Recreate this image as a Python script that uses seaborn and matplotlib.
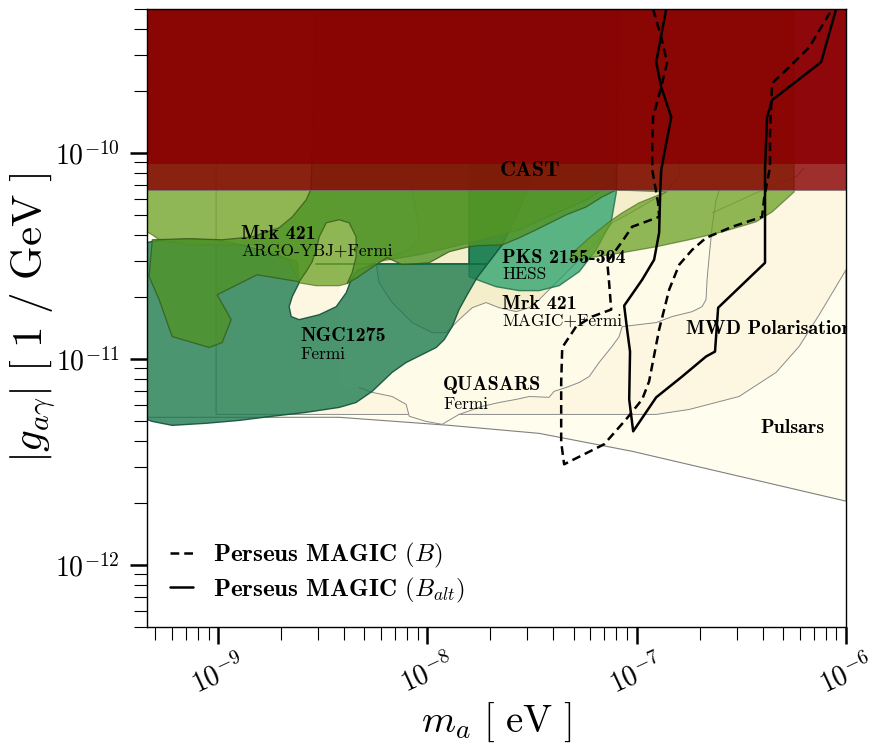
import numpy as np
import matplotlib
matplotlib.use("Agg")
import matplotlib.pyplot as plt
from matplotlib.colors import to_rgba
import seaborn as sns

# Valores, em log10: m_a [eV] e |g_a gamma| [1/GeV]
cast_limit = 6.6e-11
cast_upper_layer = 8.8e-11

pulsars_logm = [-9.4, -8.422, -7.896, -7.466, -7.022, -6.0, -6.0, -9.4]
pulsars_logg = [-11.283, -11.283, -11.322, -11.361, -11.448, -11.690, -9.0, -9.0]

mwd_logm = [-9.01, -9.01, -6.907, -6.750, -6.511, -6.334, -6.224, -6.128, -5.99, -5.99]
mwd_logg = [-9.0, -11.269, -11.269, -11.245, -11.182, -11.065, -10.939, -10.785, -10.55, -9.0]

quasars_logm = [-8.326, -8.264, -8.169, -8.102, -8.087, -8.006, -7.930, -7.849, -7.739,
                -7.657, -7.576, -7.514, -7.419, -7.395, -7.337, -7.275, -7.227, -7.180, -7.118,
                -7.084, -7.070, -6.989, -6.907, -6.831, -6.735, -6.688, -6.669, -6.664, -6.654,
                -6.645, -6.640, -6.621, -6.606, -6.606, -8.422, -8.422]
quasars_logg = [-11.138, -11.162, -11.182, -11.220, -11.278, -11.303, -11.317, -11.269, -11.230,
                -11.211, -11.196, -11.182, -11.186, -11.157, -11.138, -11.114, -11.085, -11.017, -10.939,
                -10.891, -10.843, -10.833, -10.823, -10.794, -10.770, -10.746, -10.712, -10.615, -10.504,
                -10.412, -10.358, -10.228, -10.179, -9.0, -9.0, -11.138]

magic_logm = [-8.087, -8.078, -8.049, -8.040, -8.087, -8.183, -8.245, -8.231, -8.169, -8.073,
              -7.978, -7.911, -7.849, -7.786, -7.720, -7.657, -7.576, -7.514, -7.466, -7.433,
              -7.323, -7.180, -7.118, -7.022, -6.907, -6.859, -6.797, -6.797]
magic_logg = [-9.0, -10.179, -10.310, -10.407, -10.470, -10.504, -10.538, -10.630, -10.726, -10.823,
              -10.872, -10.872, -10.809, -10.751, -10.726, -10.751, -10.770, -10.751, -10.712, -10.678,
              -10.567, -10.421, -10.339, -10.286, -10.218, -10.189, -10.107, -9.0]
magic_edge_logm = [-6.640, -6.430, -6.234, -6.200]
magic_edge_logg = [-10.291, -10.194, -10.112, -10.073]

pks_logm = [-7.801, -7.060, -7.098, -7.122, -7.194, -7.275, -7.371, -7.466, -7.562, -7.672, -7.763, -7.801]
pks_logg = [-9.0, -9.0, -10.194, -10.334, -10.470, -10.576, -10.644, -10.668, -10.668, -10.649, -10.615, -10.600]

ngc_logm = [-9.4, -9.296, -9.139, -8.981, -8.852, -8.709, -8.623, -8.613, -8.646, -8.661,
            -8.651, -8.613, -8.517, -8.436, -8.388, -8.365, -8.336, -8.245, -7.801, -7.801,
            -7.442, -7.500, -7.562, -7.643, -7.705, -7.763, -7.810, -7.849, -7.882, -7.920,
            -7.958, -8.025, -8.102, -8.169, -8.264, -8.341, -8.422, -8.580, -8.742, -8.900,
            -9.057, -9.220, -9.315, -9.4]
ngc_logg = [-10.446, -10.426, -10.416, -10.426, -10.455, -10.499, -10.528, -10.630, -10.697, -10.746,
            -10.794, -10.809, -10.785, -10.746, -10.678, -10.615, -10.567, -10.538, -10.538, -10.0,
            -10.0, -10.131, -10.276, -10.446, -10.528, -10.605, -10.688, -10.760, -10.843, -10.906,
            -10.944, -10.978, -11.017, -11.065, -11.157, -11.211, -11.235, -11.259, -11.278, -11.298,
            -11.312, -11.322, -11.303, -11.27]
ngc_inner_logm = [-8.532, -7.715]
ngc_inner_logg = [-10.540, -10.540]

argo_light_logm = [-9.4, -9.4, -9.315, -9.282, -9.139, -8.838, -8.661, -8.613, -8.532, -8.422,
                   -8.384, -8.336, -8.245, -8.040, -7.801, -7.562, -7.404, -7.242, -7.156, -7.132]
argo_light_logg = [-9.0, -10.349, -10.397, -10.421, -10.446, -10.446, -10.518, -10.630, -10.644, -10.644,
                   -10.634, -10.576, -10.528, -10.494, -10.436, -10.373, -10.300, -10.228, -10.174, -9.0]

argo_band_logm = [-7.323, -7.194, -7.070, -6.907, -6.750, -6.592, -6.430, -6.353, -6.248, -6.248,
                  -7.098, -7.098, -6.859, -6.989, -7.070, -7.132, -7.227, -7.290]
argo_band_logg = [-10.518, -10.504, -10.484, -10.455, -10.421, -10.383, -10.334, -10.286, -10.189, -9.0,
                  -9.0, -10.179, -10.189, -10.242, -10.291, -10.334, -10.412, -10.470]

argo_dark_logm = [-8.527, -7.084, -7.098, -7.165, -7.242, -7.337, -7.404, -7.481, -7.562, -7.643,
                  -7.763, -7.801, -7.896, -7.992, -8.121, -8.193, -8.245, -8.336, -8.384, -8.360,
                  -8.341, -8.341, -8.374, -8.422, -8.484, -8.517, -8.532, -8.551, -8.580, -8.613,
                  -8.814, -9.005, -8.938, -8.981, -9.043, -9.220, -9.282, -9.330, -9.315, -9.139,
                  -8.981, -8.838, -8.709, -8.646, -8.580, -8.556]
argo_dark_logg = [-9.0, -9.0, -10.179, -10.213, -10.262, -10.300, -10.334, -10.373, -10.412, -10.446,
                  -10.450, -10.455, -10.479, -10.533, -10.542, -10.508, -10.542, -10.605, -10.634, -10.581,
                  -10.504, -10.407, -10.339, -10.324, -10.339, -10.407, -10.470, -10.528, -10.576, -10.625,
                  -10.591, -10.688, -10.809, -10.920, -10.944, -10.891, -10.712, -10.600, -10.421, -10.416,
                  -10.421, -10.407, -10.363, -10.310, -10.228, -10.174]

# Perseus MAGIC (B) - tracejado
perseus_b_logm = [-6.922, -6.883, -6.855, -6.883, -6.922, -6.926, -6.926, -6.907, -6.898, -6.893,
                  -7.022, -7.074, -7.141, -7.132, -7.122, -7.213, -7.290, -7.356, -7.361, -7.361,
                  -7.347, -7.156, -7.051, -6.974, -6.941, -6.893, -6.845, -6.797, -6.735, -6.669,
                  -6.544, -6.401, -6.391, -6.363, -6.363, -6.358, -6.353, -6.272, -6.176, -6.066]
perseus_b_logg = [-9.30, -9.438, -9.559, -9.680, -9.826, -9.952, -10.082, -10.189, -10.242, -10.310,
                  -10.358, -10.436, -10.528, -10.630, -10.760, -10.794, -10.843, -10.944, -11.114, -11.404,
                  -11.511, -11.414, -11.293, -11.196, -11.109, -10.857, -10.663, -10.542, -10.470, -10.412,
                  -10.358, -10.310, -10.218, -10.068, -9.903, -9.777, -9.661, -9.584, -9.487, -9.30]

# Perseus MAGIC (B_alt) - contínuo
perseus_balt_logm = [-6.859, -6.907, -6.883, -6.835, -6.859, -6.883, -6.888, -6.893, -6.917, -6.974,
                     -7.060, -7.046, -7.032, -7.036, -7.017, -6.907, -6.783, -6.669, -6.626, -6.611,
                     -6.387, -6.387, -6.387, -6.377, -6.353, -6.119, -6.047]
perseus_balt_logg = [-9.30, -9.559, -9.680, -9.826, -9.952, -10.082, -10.194, -10.387, -10.518, -10.615,
                     -10.741, -10.857, -10.964, -11.196, -11.351, -11.186, -11.085, -10.988, -10.964, -10.751,
                     -10.533, -10.228, -10.068, -9.826, -9.743, -9.559, -9.30]

xticks = [1e-9, 1e-8, 1e-7, 1e-6]
yticks = [1e-12, 1e-11, 1e-10]

# Estilo
sns.set_theme(style="ticks")
plt.rcParams.update({
    "mathtext.fontset": "cm",
    "font.family": ["cmr10", "DejaVu Serif"],
    "axes.formatter.use_mathtext": True,
    "axes.edgecolor": "black",
    "axes.labelcolor": "black",
    "text.color": "black",
    "axes.linewidth": 1.0,
    "xtick.color": "black",
    "ytick.color": "black",
    "axes.unicode_minus": False,
})

fig, ax = plt.subplots(figsize=(8.82, 7.52), dpi=100)
fig.subplots_adjust(left=0.1667, right=0.9592, bottom=0.1662, top=0.988)
ax.set_xscale("log")
ax.set_yscale("log")


def regiao(logm, logg, face, alpha, edge, lw=0.8, z=1):
    ax.fill(10 ** np.array(logm), 10 ** np.array(logg),
            facecolor=to_rgba(face, alpha), edgecolor=edge, lw=lw, zorder=z)


regiao(pulsars_logm, pulsars_logg, "#fffeee", 1.0, "#808080", z=1)
regiao(mwd_logm, mwd_logg, "#fdf7e2", 1.0, "#8a8a8a", lw=0.7, z=2)
regiao(quasars_logm, quasars_logg, "#fefbe9", 1.0, "none", lw=0, z=3)
ax.plot(10 ** np.array(quasars_logm[:-3]), 10 ** np.array(quasars_logg[:-3]), color="#8a8a8a", lw=0.7, zorder=3)
regiao(magic_logm, magic_logg, "#f5eecb", 1.0, "#8a8a8a", lw=0.7, z=4)
ax.plot(10 ** np.array(magic_edge_logm), 10 ** np.array(magic_edge_logg), color="#8a8a8a", lw=0.6, zorder=4)

regiao(pks_logm, pks_logg, "#26a06a", 0.75, to_rgba("#1d6b4a", 0.8), lw=1.0, z=5)
regiao(ngc_logm, ngc_logg, "#18784d", 0.78, to_rgba("#12503a", 0.9), lw=1.0, z=6)
ax.plot(10 ** np.array(ngc_inner_logm), 10 ** np.array(ngc_inner_logg), color="#0d6a45", lw=1.2, zorder=6)
regiao(argo_light_logm, argo_light_logg, "#6aa023", 0.75, to_rgba("#4d6f27", 0.7), lw=0.9, z=7)
regiao(argo_band_logm, argo_band_logg, "#6aa023", 0.75, to_rgba("#4d6f27", 0.7), lw=0.9, z=7)
regiao(argo_dark_logm, argo_dark_logg, "#4f9327", 0.8, to_rgba("#35591c", 0.8), lw=0.9, z=8)

# CAST (duas camadas semitransparentes)
xs = [1e-10, 1e-5]
ax.fill_between(xs, cast_limit, 1e-8, color="#8a0003", alpha=0.81, lw=0.6, edgecolor="#777777", zorder=9)
ax.fill_between(xs, cast_upper_layer, 1e-8, color="#8a0003", alpha=0.81, lw=0, zorder=9)

# Perseus MAGIC
sns.lineplot(x=10 ** np.array(perseus_b_logm), y=10 ** np.array(perseus_b_logg), sort=False,
             estimator=None, color="black", lw=1.8, ls=(0, (3.5, 2.0)),
             label=r"Perseus MAGIC $(B)$", ax=ax, zorder=10)
sns.lineplot(x=10 ** np.array(perseus_balt_logm), y=10 ** np.array(perseus_balt_logg), sort=False,
             estimator=None, color="black", lw=1.8,
             label=r"Perseus MAGIC $(B_{alt})$", ax=ax, zorder=10)

ax.set_xlim(10 ** -9.34, 1e-6)
ax.set_ylim(5e-13, 5e-10)
ax.set_xticks(xticks)
ax.set_yticks(yticks)

# Rótulos das regiões
bold = dict(family="cmb10", fontsize=14.4, va="center", ha="left", transform=ax.transAxes, zorder=12)
reg = dict(family="cmr10", fontsize=12.5, va="center", ha="left", transform=ax.transAxes, zorder=12)
ax.text(0.505, 0.738, "CAST", **{**bold, "fontsize": 16})
ax.text(0.1345, 0.636, "Mrk 421", **bold)
ax.text(0.1345, 0.608, "ARGO-YBJ+Fermi", **reg)
ax.text(0.508, 0.597, "PKS 2155-304", **bold)
ax.text(0.508, 0.570, "HESS", **reg)
ax.text(0.508, 0.523, "Mrk 421", **bold)
ax.text(0.508, 0.495, "MAGIC+Fermi", **reg)
ax.text(0.220, 0.471, "NGC1275", **bold)
ax.text(0.220, 0.442, "Fermi", **reg)
ax.text(0.4235, 0.392, "QUASARS", **bold)
ax.text(0.4235, 0.361, "Fermi", **reg)
ax.text(0.771, 0.482, "MWD Polarisation", clip_on=True, **bold)
ax.text(0.878, 0.322, "Pulsars", **bold)

ax.set_xlabel(r"$m_a\ [\ \mathrm{eV}\ ]$", fontsize=28, labelpad=1)
ax.set_ylabel(r"$|g_{a\gamma}|\ [\ 1\ /\ \mathrm{GeV}\ ]$", fontsize=31, labelpad=-2)

ax.tick_params(which="major", direction="out", length=12.5, width=1.8, labelsize=20,
               top=False, right=False)
ax.tick_params(which="minor", direction="out", length=9.5, width=0.8, top=False, right=False)
ax.tick_params(axis="x", labelrotation=25)
ax.tick_params(axis="y", which="major", pad=7)

ax.legend(loc="lower left", frameon=False, prop={"family": "cmb10", "size": 18},
          handlelength=0.95, handletextpad=0.8, labelspacing=0.2, borderaxespad=0.5)

for s in ax.spines.values():
    s.set_zorder(20)

plt.savefig("out.png", dpi=100)
